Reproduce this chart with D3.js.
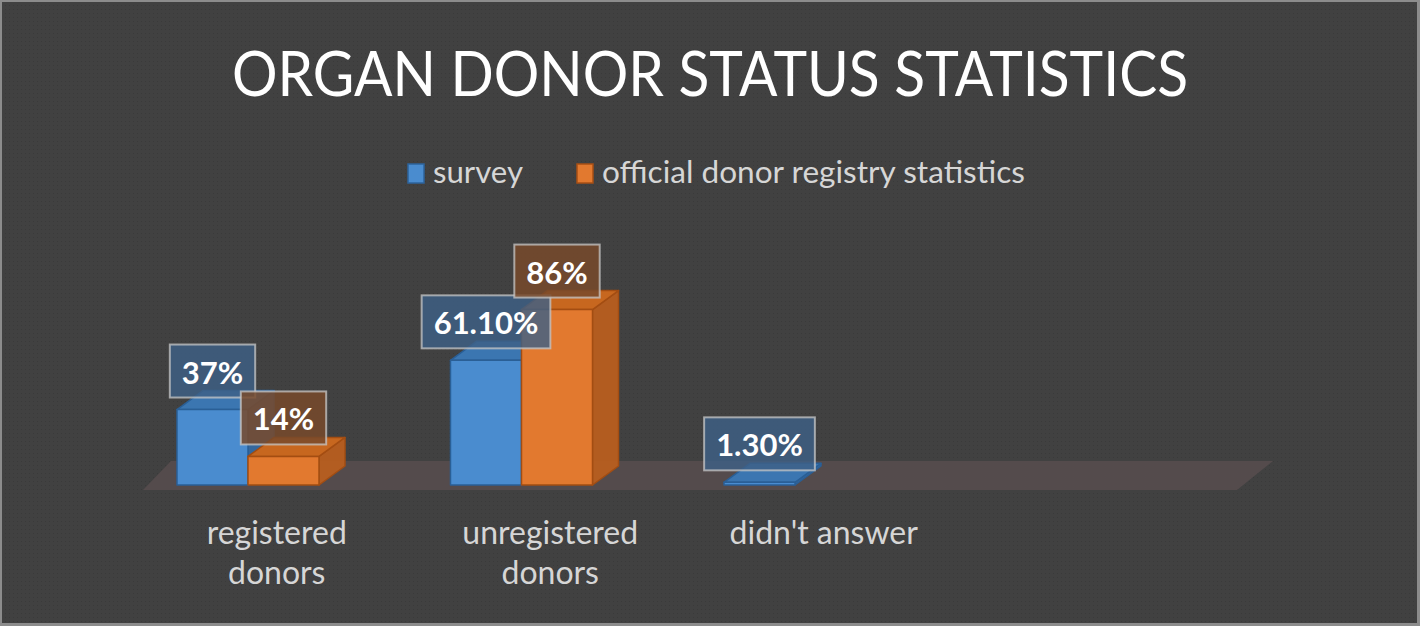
<!DOCTYPE html>
<html><head><meta charset="utf-8">
<script src="https://cdn.jsdelivr.net/npm/d3@7/dist/d3.min.js"></script>
<style>html,body{margin:0;padding:0;background:#404040;overflow:hidden}</style>
</head><body>
<svg id="chart" width="1420" height="626"></svg>
<script>
const title = "ORGAN DONOR STATUS STATISTICS";
const categories = [["registered", "donors"], ["unregistered", "donors"], ["didn't answer"]];
const seriesNames = ["survey", "official donor registry statistics"];
const surveyValues = [37, 61.1, 1.3];
const officialValues = [14, 86, null];
const labelTexts = [["37%", "14%"], ["61.10%", "86%"], ["1.30%", null]];

const W = 1420, H = 626;
const svg = d3.select("#chart");
const font = "Lato, 'Open Sans', sans-serif";

// background + border
svg.append("rect").attr("x", 0).attr("y", 0).attr("width", W).attr("height", H).attr("fill", "#8c8c8c");
const defs = svg.append("defs");
const pat = defs.append("pattern").attr("id", "dots").attr("width", 4).attr("height", 4).attr("patternUnits", "userSpaceOnUse");
pat.append("rect").attr("width", 4).attr("height", 4).attr("fill", "#414141");
pat.append("rect").attr("x", 1).attr("y", 1).attr("width", 1).attr("height", 1).attr("fill", "#3a3a3a");
svg.append("rect").attr("x", 2).attr("y", 2).attr("width", W - 5).attr("height", H - 5).attr("fill", "url(#dots)");

// title
svg.append("text").attr("x", 710).attr("y", 96).attr("text-anchor", "middle")
  .attr("font-family", font).attr("font-size", 62).attr("fill", "#ffffff")
  .attr("textLength", 956).attr("lengthAdjust", "spacingAndGlyphs").text(title);

// legend
const legendColors = ["#4a8ccf", "#e2792f"];
const legendStroke = ["#2d639c", "#a84f14"];
const legendItems = [{x: 408, w: 90}, {x: 577, w: 423}];
seriesNames.forEach((s, i) => {
  const g = svg.append("g");
  g.append("rect").attr("x", legendItems[i].x).attr("y", 164).attr("width", 16).attr("height", 19)
    .attr("fill", legendColors[i]).attr("stroke", legendStroke[i]).attr("stroke-width", 1.5);
  g.append("text").attr("x", legendItems[i].x + 25).attr("y", 183)
    .attr("font-family", font).attr("font-size", 30).attr("fill", "#d6d6d6")
    .attr("textLength", legendItems[i].w).attr("lengthAdjust", "spacingAndGlyphs").text(s);
});

// scales
const catKeys = categories.map(c => c.join(" "));
const bandW = 273.5;
const x = d3.scaleBand().domain(catKeys).range([143, 143 + bandW * catKeys.length]).padding(0);
const y = d3.scaleLinear().domain([0, 100]).range([485, 281]);
const inner = d3.scaleBand().domain(seriesNames).range([34, 34 + 142]).padding(0);

// floor (4 band slots)
const fx0 = x.range()[0], fx1 = x.range()[0] + bandW * 4;
const fy = y(0);
svg.append("polygon")
  .attr("points", [[fx0, fy + 5], [fx1, fy + 5], [fx1 + 36, fy - 24], [fx0 + 28, fy - 24]].map(p => p.join(",")).join(" "))
  .attr("fill", "#554c4d").attr("opacity", 0.95);

// bars
const dx = 26, dy = 19;
const barStyle = [
  {front: "#4a8ccf", top: "#3b76b1", side: "#3569a1", stroke: "#2a5f96"},
  {front: "#e2792f", top: "#c7671f", side: "#b85e1f", stroke: "#a34d12"}
];
const seriesData = [surveyValues, officialValues];
const bars = [];
catKeys.forEach((c, ci) => {
  seriesNames.forEach((s, si) => {
    const v = seriesData[si][ci];
    if (v == null) return;
    bars.push({ci, si, v, x0: x(c) + inner(s), w: inner.bandwidth(), yt: y(v), yb: y(0), label: labelTexts[ci][si]});
  });
});
const gBars = svg.append("g");
bars.forEach(b => {
  const st = barStyle[b.si];
  const g = gBars.append("g").attr("stroke", st.stroke).attr("stroke-width", 1.5).attr("stroke-linejoin", "round");
  g.append("polygon").attr("points", [[b.x0 + b.w, b.yt], [b.x0 + b.w + dx, b.yt - dy], [b.x0 + b.w + dx, b.yb - dy], [b.x0 + b.w, b.yb]].map(p => p.join(",")).join(" "))
    .attr("fill", st.side).attr("fill-opacity", 0.95);
  g.append("polygon").attr("points", [[b.x0, b.yt], [b.x0 + dx, b.yt - dy], [b.x0 + b.w + dx, b.yt - dy], [b.x0 + b.w, b.yt]].map(p => p.join(",")).join(" "))
    .attr("fill", st.top);
  g.append("rect").attr("x", b.x0).attr("y", b.yt).attr("width", b.w).attr("height", b.yb - b.yt)
    .attr("fill", st.front);
});

// data labels
const labelFill = ["rgba(62,96,134,0.82)", "rgba(120,74,44,0.85)"];
const gLab = svg.append("g");
bars.forEach(b => {
  if (!b.label) return;
  const cx = b.x0 + b.w / 2;
  const bottom = b.yt - 12;
  const g = gLab.append("g");
  const rect = g.append("rect");
  const t = g.append("text").attr("x", cx).attr("y", bottom - 14).attr("text-anchor", "middle")
    .attr("font-family", font).attr("font-weight", "bold").attr("font-size", 31).attr("fill", "#ffffff").text(b.label);
  const tw = t.node().getComputedTextLength();
  const bw = tw + 24;
  rect.attr("x", cx - bw / 2).attr("y", bottom - 53).attr("width", bw).attr("height", 53)
    .attr("fill", labelFill[b.si]).attr("stroke", "rgba(200,200,200,0.75)").attr("stroke-width", 2);
});

// category labels
catKeys.forEach((c, ci) => {
  const cx = x(c) + bandW / 2 - 3;
  const t = svg.append("text").attr("x", cx).attr("y", 544).attr("text-anchor", "middle")
    .attr("font-family", font).attr("font-size", 32).attr("fill", "#d6d6d6");
  categories[ci].forEach((line, li) => {
    t.append("tspan").attr("x", cx).attr("dy", li === 0 ? 0 : 40).text(line);
  });
});
</script>
</body></html>
